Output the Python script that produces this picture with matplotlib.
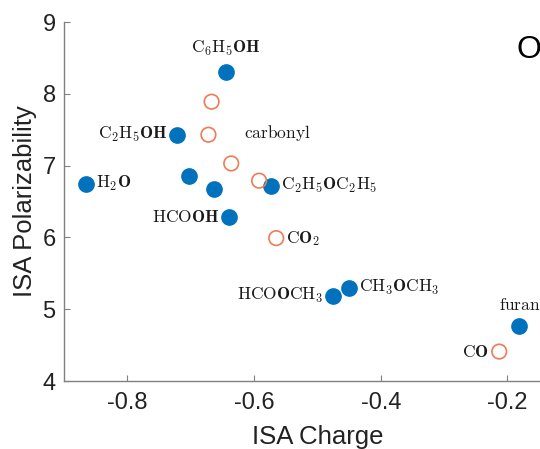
import matplotlib
matplotlib.use("Agg")
import matplotlib.pyplot as plt

plt.rcParams['mathtext.fontset'] = 'cm'
plt.rcParams['font.family'] = ['Liberation Sans', 'DejaVu Sans']

# filled (blue) molecules
blue_x = [-0.645, -0.721, -0.866, -0.702, -0.663, -0.639, -0.574, -0.475, -0.450, -0.181]
blue_y = [8.31, 7.43, 6.75, 6.86, 6.68, 6.29, 6.72, 5.19, 5.30, 4.77]
# open (orange) carbonyl molecules
orange_x = [-0.667, -0.672, -0.636, -0.592, -0.565, -0.213]
orange_y = [7.89, 7.43, 7.03, 6.79, 5.99, 4.41]

# labels: (text, x, y, ha, va)
labels = [
    (r'$\mathrm{C_6H_5}\mathbf{OH}$', -0.645, 8.50, 'center', 'bottom'),
    (r'$\mathrm{C_2H_5}\mathbf{OH}$', -0.737, 7.43, 'right', 'center'),
    (r'$\mathrm{H_2}\mathbf{O}$', -0.850, 6.75, 'left', 'center'),
    (r'$\mathrm{HCO}\mathbf{OH}$', -0.655, 6.29, 'right', 'center'),
    (r'$\mathrm{C_2H_5}\mathbf{O}\mathrm{C_2H_5}$', -0.558, 6.72, 'left', 'center'),
    (r'$\mathrm{HCO}\mathbf{O}\mathrm{CH_3}$', -0.491, 5.19, 'right', 'center'),
    (r'$\mathrm{CH_3}\mathbf{O}\mathrm{CH_3}$', -0.434, 5.30, 'left', 'center'),
    (r'$\mathrm{furan}$', -0.181, 4.95, 'center', 'bottom'),
    (r'$\mathrm{C}\mathbf{O}_2$', -0.549, 5.99, 'left', 'center'),
    (r'$\mathrm{C}\mathbf{O}$', -0.229, 4.41, 'right', 'center'),
    (r'$\mathrm{carbonyl}$', -0.616, 7.45, 'left', 'center'),
]

xticks = [-0.8, -0.6, -0.4, -0.2]
xticklabels = ['-0.8', '-0.6', '-0.4', '-0.2']
yticks = [4, 5, 6, 7, 8, 9]

W, H = 540, 449
fig = plt.figure(figsize=(W / 100, H / 100), dpi=100)
left, bottom, top = 64, 381, 22
x0, x1 = -0.9, -0.1
pxw = (x1 - x0) / 0.2 * 126.7
ax = fig.add_axes([left / W, (H - bottom) / H, pxw / W, (bottom - top) / H])

ax.scatter(blue_x, blue_y, s=11.0 ** 2, color='#0072BD', edgecolors='#0072BD', zorder=3)
ax.scatter(orange_x, orange_y, s=10.5 ** 2, facecolors='none', edgecolors='#F07A55', linewidths=1.2, zorder=3)

for t, x, y, ha, va in labels:
    ax.text(x, y, t, ha=ha, va=va, fontsize=12.5, color='#1a1a1a')

ax.set_xlim(x0, x1)
ax.set_ylim(4, 9)
ax.set_xticks(xticks)
ax.set_xticklabels(xticklabels)
ax.set_yticks(yticks)
ax.tick_params(direction='in', length=4, width=0.8, color='#808080', labelsize=17, labelcolor='#222222')
ax.tick_params(axis='y', pad=6)
ax.tick_params(axis='x', pad=8)
for s in ['top', 'right']:
    ax.spines[s].set_visible(False)
for s in ['left', 'bottom']:
    ax.spines[s].set_color('#808080')
    ax.spines[s].set_linewidth(1.0)

ax.set_xlabel('ISA Charge', fontsize=18.5, color='#222222', labelpad=8)
ax.set_ylabel('ISA Polarizability', fontsize=18.5, color='#222222', labelpad=4)

fig.text(517 / W, 1 - 58 / H, 'O', fontsize=23, color='black', ha='left', va='baseline')

fig.savefig('out.png', dpi=100)
